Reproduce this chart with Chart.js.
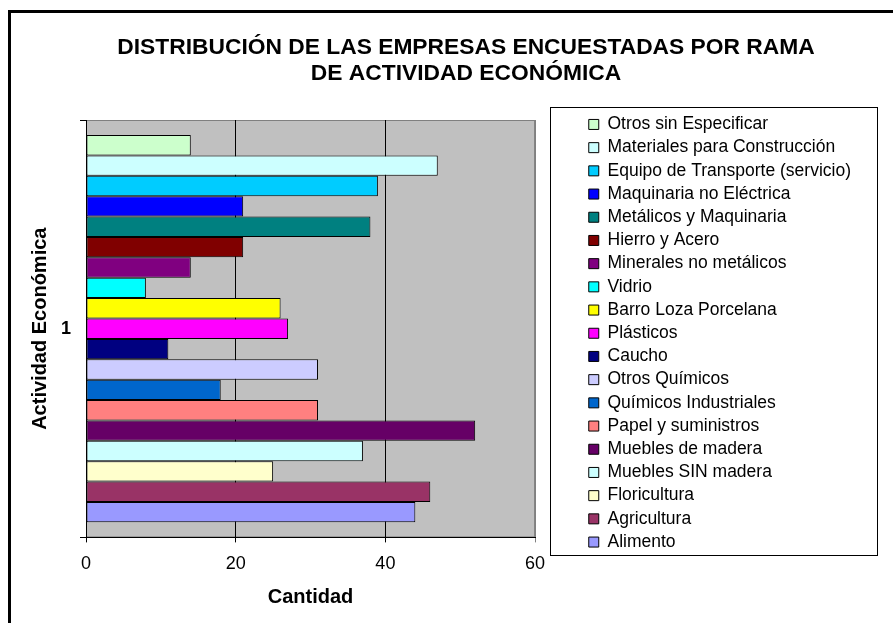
<!DOCTYPE html>
<html lang="es">
<head>
<meta charset="utf-8">
<title>Distribución de las empresas encuestadas</title>
<script src="https://cdn.jsdelivr.net/npm/chart.js@4.4.1/dist/chart.umd.min.js"></script>
<style>
    html, body { margin: 0; padding: 0; background: #fff; }
    #contenedor { position: relative; width: 893px; height: 623px; }
</style>
</head>
<body>
<div id="contenedor"><canvas id="graficoRamas" width="893" height="623"></canvas></div>
<script>
// datos (de arriba hacia abajo)
const categorias = ['1'];
const ramas = [
    'Otros sin Especificar',
    'Materiales para Construcción',
    'Equipo de Transporte (servicio)',
    'Maquinaria no Eléctrica',
    'Metálicos y Maquinaria',
    'Hierro y Acero',
    'Minerales no metálicos',
    'Vidrio',
    'Barro Loza Porcelana',
    'Plásticos',
    'Caucho',
    'Otros Químicos',
    'Químicos Industriales',
    'Papel y suministros',
    'Muebles de madera',
    'Muebles SIN madera',
    'Floricultura',
    'Agricultura',
    'Alimento'
];
const cantidades = [14, 47, 39, 21, 38, 21, 14, 8, 26, 27, 11, 31, 18, 31, 52, 37, 25, 46, 44];
const colores = [
    '#CCFFCC', '#CCFFFF', '#00CCFF', '#0000FF', '#008080', '#800000', '#800080',
    '#00FFFF', '#FFFF00', '#FF00FF', '#000080', '#CCCCFF', '#0066CC', '#FF8080',
    '#660066', '#CCFFFF', '#FFFFCC', '#993366', '#9999FF'
];
const ejeMin = 0;
const ejeMax = 60;
const paso = 20;
const titulo = ['DISTRIBUCIÓN DE LAS EMPRESAS ENCUESTADAS POR RAMA', 'DE ACTIVIDAD ECONÓMICA'];

const fuente = "'Liberation Sans', Arial, sans-serif";

// fondo gris, marco exterior, titulo y recuadro de la leyenda
const decorado = {
    id: 'decorado',
    beforeDraw(chart) {
        const ctx = chart.ctx;
        const a = chart.chartArea;
        ctx.save();
        ctx.fillStyle = '#fff';
        ctx.fillRect(0, 0, chart.width, chart.height);
        ctx.fillStyle = '#000';
        ctx.fillRect(8, 10, 3, chart.height);
        ctx.fillRect(8, 10, chart.width, 3);

        ctx.fillStyle = '#C0C0C0';
        ctx.fillRect(a.left, a.top, a.right - a.left, a.bottom - a.top);
        ctx.strokeStyle = '#808080';
        ctx.lineWidth = 1;
        ctx.strokeRect(a.left + 0.5, a.top + 0.5, a.right - a.left - 1, a.bottom - a.top - 1);

        ctx.fillStyle = '#000';
        ctx.font = 'bold 22.8px ' + fuente;
        ctx.textAlign = 'center';
        ctx.textBaseline = 'middle';
        ctx.fillText(titulo[0], 466, 48);
        ctx.fillText(titulo[1], 466, 74);

        const ley = chart.legend;
        ctx.strokeStyle = '#000';
        ctx.lineWidth = 1;
        const izq = Math.round(a.right + 15) + 0.5;
        const der = Math.round(ley.right + 16) + 0.5;
        ctx.strokeRect(izq, 107.5, der - izq, 448);
        ctx.restore();
    }
};

const datasets = ramas.map((rama, i) => ({
    label: rama,
    data: [cantidades[i]],
    backgroundColor: colores[i],
    borderColor: '#000',
    borderWidth: 1,
    borderSkipped: false,
    barPercentage: 1.0,
    categoryPercentage: 0.928
}));

const ctxRamas = document.getElementById('graficoRamas').getContext('2d');
new Chart(ctxRamas, {
    type: 'bar',
    data: { labels: categorias, datasets: datasets },
    options: {
        indexAxis: 'y',
        responsive: false,
        animation: false,
        layout: { padding: { top: 110, left: 19, right: 32, bottom: 10 } },
        scales: {
            x: {
                min: ejeMin,
                max: ejeMax,
                ticks: { stepSize: paso, color: '#000', padding: 11, font: { family: fuente, size: 18 } },
                grid: {
                    color: c => (c.tick && c.tick.value === ejeMax) ? '#808080' : '#000',
                    lineWidth: 1,
                    tickLength: 5
                },
                border: { display: true, color: '#000', width: 1 },
                title: {
                    display: true, text: 'Cantidad', color: '#000',
                    font: { family: fuente, size: 20, weight: 'bold', lineHeight: 1 },
                    padding: { top: 1, bottom: 6 }
                }
            },
            y: {
                ticks: { color: '#000', padding: 9, font: { family: fuente, size: 18, weight: 'bold' } },
                grid: { drawOnChartArea: false, color: '#000', tickLength: 6, offset: true },
                border: { display: true, color: '#000', width: 1 },
                title: {
                    display: true, text: 'Actividad Económica', color: '#000',
                    font: { family: fuente, size: 20, weight: 'bold' },
                    padding: { top: 9, bottom: 0 }
                }
            },
            // espaciadores: separan el area del grafico del titulo y de la leyenda
            arriba: {
                type: 'linear', position: 'top', axis: 'x',
                ticks: { display: false }, grid: { display: false }, border: { display: false },
                afterFit: s => { s.height = 10; }
            },
            derecha: {
                type: 'linear', position: 'right', axis: 'y',
                ticks: { display: false }, grid: { display: false }, border: { display: false },
                afterFit: s => { s.width = 48; }
            }
        },
        plugins: {
            legend: {
                position: 'right',
                align: 'start',
                maxWidth: 400,
                labels: {
                    color: '#000',
                    boxWidth: 10,
                    boxHeight: 10,
                    padding: 5.7,
                    font: { family: fuente, size: 17.5 }
                }
            },
            tooltip: { enabled: false }
        }
    },
    plugins: [decorado]
});
</script>
</body>
</html>
